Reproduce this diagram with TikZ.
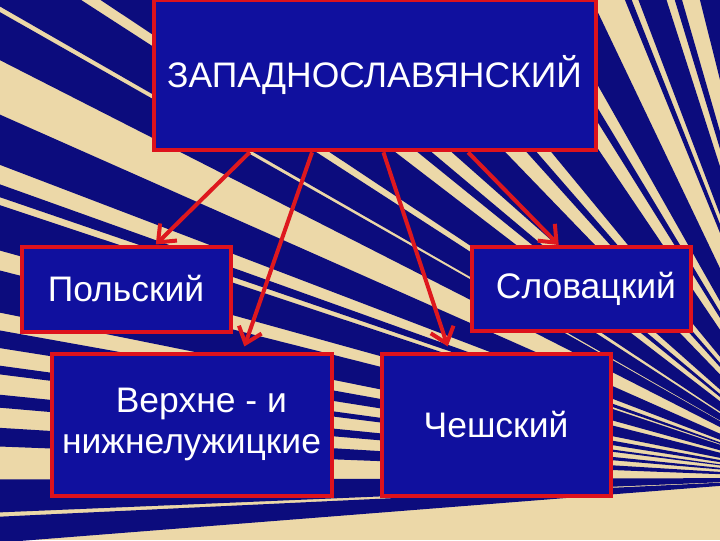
\documentclass[tikz,border=0pt]{standalone}
\usepackage{fontspec}
\setmainfont{Liberation Sans}
\usetikzlibrary{arrows.meta, calc}

\begin{document}
\begin{tikzpicture}[x=0.75pt,y=0.75pt,yscale=-1,xscale=1,
  stripe/.style={fill={rgb, 255:red, 12; green, 12; blue, 125 }},
  langbox/.style={draw={rgb, 255:red, 222; green, 18; blue, 28 }, line width=3pt, fill={rgb, 255:red, 16; green, 16; blue, 158 }, text=white, font=\fontsize{26.6}{31}\selectfont, align=center, inner sep=0pt},
  branch/.style={draw={rgb, 255:red, 222; green, 24; blue, 30 }, line width=3pt, -{Straight Barb[length=11pt,width=18pt]}}]
\useasboundingbox (0,0) rectangle (720,540);
\clip (0,0) rectangle (720,540);

%Shape: Rectangle [background]
\fill [fill={rgb, 255:red, 236; green, 216; blue, 168 }] (0,0) rectangle (720,540);
\coordinate (vp) at (820,478);

%Shape: Wedges
\fill [stripe] (vp) -- +(175.5:1500) -- +(177.3:1500) -- cycle;
\fill [stripe] (vp) -- +(177.6:1500) -- +(179.9:1500) -- cycle;
\fill [stripe] (vp) -- +(182.2:1500) -- +(183.5:1500) -- cycle;
\fill [stripe] (vp) -- +(184.9:1500) -- +(185.8:1500) -- cycle;
\fill [stripe] (vp) -- +(187.2:1500) -- +(187.8:1500) -- cycle;
\fill [stripe] (vp) -- +(189.0:1500) -- +(190.2:1500) -- cycle;
\fill [stripe] (vp) -- +(191.4:1500) -- +(194.2:1500) -- cycle;
\fill [stripe] (vp) -- +(195.5:1500) -- +(198.4:1500) -- cycle;
\fill [stripe] (vp) -- +(198.9:1500) -- +(199.7:1500) -- cycle;
\fill [stripe] (vp) -- +(200.9:1500) -- +(203.9:1500) -- cycle;
\fill [stripe] (vp) -- +(207.0:1500) -- +(209.6:1500) -- cycle;
\fill [stripe] (vp) -- +(209.9:1500) -- +(212.9:1500) -- cycle;
\fill [stripe] (vp) -- +(213.6:1500) -- +(217.5:1500) -- cycle;
\fill [stripe] (vp) -- +(219.0:1500) -- +(220.0:1500) -- cycle;
\fill [stripe] (vp) -- +(221.5:1500) -- +(226.0:1500) -- cycle;
\fill [stripe] (vp) -- +(228.0:1500) -- +(229.0:1500) -- cycle;
\fill [stripe] (vp) -- +(230.5:1500) -- +(236.0:1500) -- cycle;
\fill [stripe] (vp) -- +(238.0:1500) -- +(239.0:1500) -- cycle;
\fill [stripe] (vp) -- +(240.5:1500) -- +(244.5:1500) -- cycle;
\fill [stripe] (vp) -- +(247.8:1500) -- +(248.5:1500) -- cycle;
\fill [stripe] (vp) -- +(249.2:1500) -- +(252.2:1500) -- cycle;
\fill [stripe] (vp) -- +(253.1:1500) -- +(253.9:1500) -- cycle;
\fill [stripe] (vp) -- +(255.9:1500) -- +(259.0:1500) -- cycle;

% Text Node
\node [langbox, minimum width=331.5pt, minimum height=113pt] (top) at (374.5,75) {ЗАПАДНОСЛАВЯНСКИЙ};
% Text Node
\node [langbox, minimum width=156.75pt, minimum height=63.75pt] (pol) at (126,289) {Польский};
% Text Node
\node [langbox, minimum width=164.25pt, minimum height=63pt] (slov) at (581,289) {\ Словацкий};
% Text Node
\node [langbox, minimum width=210pt, minimum height=106.5pt] (luz) at (191.5,424.5) {\ \ Верхне - и\\нижнелужицкие};
% Text Node
\node [langbox, minimum width=171.75pt, minimum height=106.5pt] (cz) at (496,424.5) {Чешский};

%Straight Lines
\draw [branch] ($(top.south west)!0.22!(top.south east)$) -- ($(pol.north west)!0.64!(pol.north east)$);
\draw [branch, shorten >=4pt] ($(top.south west)!0.36!(top.south east)$) -- ($(luz.north west)!0.68!(luz.north east)$);
\draw [branch, shorten >=4pt] ($(top.south west)!0.52!(top.south east)$) -- ($(cz.north west)!0.30!(cz.north east)$);
\draw [branch] ($(top.south west)!0.71!(top.south east)$) -- ($(slov.north west)!0.40!(slov.north east)$);

\end{tikzpicture}
\end{document}
